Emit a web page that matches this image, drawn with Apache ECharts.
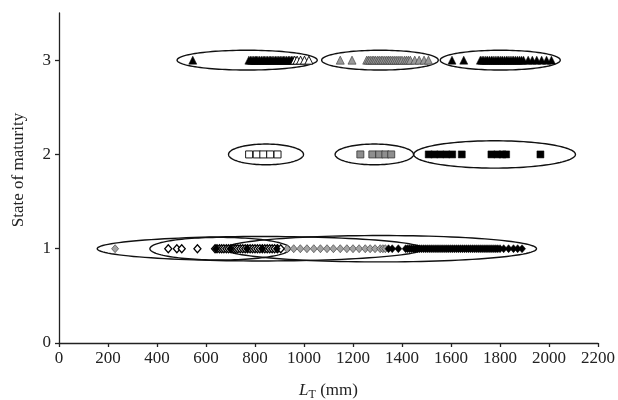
<!DOCTYPE html>
<html>
<head>
<meta charset="utf-8">
<script src="https://cdn.jsdelivr.net/npm/echarts@6/dist/echarts.min.js"></script>
<style>html,body{margin:0;padding:0;background:#fff}#c{width:618px;height:400px}</style>
</head>
<body>
<div id="c"></div>
<script>
// ---- Data (L_T in mm) ----
// State 3: triangles
const tri3BlackLeft = [546, 775, 782, 788, 795, 801, 806, 812, 819, 826, 833, 838, 845, 851, 858, 864, 870, 877, 884, 890, 897, 903, 910, 916, 922, 929, 936, 942, 949, 955];
const tri3WhiteLeft = [962, 972, 986, 1002, 1020];
const tri3Grey = [1148, 1196, 1256, 1263, 1270, 1278, 1285, 1292, 1300, 1307, 1315, 1322, 1330, 1338, 1345, 1352, 1360, 1368, 1376, 1384, 1392, 1400, 1410, 1418, 1426, 1434, 1452, 1470, 1490, 1508];
const tri3Black = [1604, 1652, 1720, 1727, 1734, 1742, 1749, 1757, 1765, 1772, 1780, 1788, 1795, 1803, 1810, 1818, 1826, 1833, 1841, 1849, 1856, 1864, 1872, 1880, 1888, 1896, 1915, 1932, 1950, 1970, 1990, 2010];
// State 2: squares
const sq2White = [776, 807, 834, 862, 892];
const sq2Grey = [1230, 1279, 1307, 1332, 1356];
const sq2Black = [1509, 1532, 1556, 1581, 1605, 1644, 1765, 1789, 1810, 1825, 1965];
// State 1: diamonds
const dia1Grey = [229, 931, 958, 985, 1012, 1040, 1067, 1094, 1120, 1148, 1175, 1200, 1225, 1250, 1270, 1290, 1311, 1322, 1332];
const dia1White = [446, 481, 501, 565, 637, 645, 655, 664, 673, 683, 692, 702, 712, 721, 730, 740, 750, 760, 770, 780, 790, 800, 810, 820, 830, 840, 850, 860, 870, 880, 892, 905];
const dia1Black = [641, 700, 768, 830, 889, 1345, 1360, 1385, 1415, 1423, 1431, 1439, 1447, 1455, 1463, 1471, 1479, 1487, 1495, 1503, 1511, 1519, 1527, 1535, 1543, 1551, 1559, 1567, 1575, 1583, 1591, 1599, 1607, 1615, 1623, 1631, 1639, 1647, 1655, 1663, 1671, 1679, 1687, 1695, 1703, 1711, 1719, 1727, 1735, 1743, 1751, 1759, 1767, 1775, 1783, 1791, 1800, 1815, 1835, 1855, 1872, 1890];
// Ellipses: [centre L_T, state, half-width (mm), half-height (state units)]
const ellipses = [
  [768, 3, 286, 0.105], [1310, 3, 238, 0.105], [1801, 3, 245, 0.105],
  [845, 2, 153, 0.11], [1287, 2, 160, 0.11], [1778, 2, 330, 0.145],
  [821, 1, 665, 0.13], [657, 1, 286, 0.12], [1313, 1, 636, 0.14]
];
const yTicks = [0, 1, 2, 3];

const FONT = 'Liberation Serif';
function pts(arr, y) { return arr.map(v => [v, y]); }
function sc(name, arr, y, symbol, size, fill, border, bw) {
  return {
    type: 'scatter', name: name, data: pts(arr, y), symbol: symbol, symbolSize: size, z: 3,
    itemStyle: { color: fill, borderColor: border, borderWidth: bw, opacity: 1 },
    emphasis: { disabled: true }, silent: true, animation: false
  };
}
const chart = echarts.init(document.getElementById('c'), null, { renderer: 'canvas' });
chart.setOption({
  animation: false,
  backgroundColor: '#fff',
  grid: { left: 59, right: 20, top: 13, bottom: 57, containLabel: false, outerBoundsMode: 'none' },
  xAxis: {
    type: 'value', min: 0, max: 2200, interval: 200,
    axisLine: { show: true, lineStyle: { color: '#222', width: 1.3 } },
    axisTick: { show: true, inside: false, length: 4, lineStyle: { color: '#222', width: 1.3 } },
    axisLabel: { margin: 7, color: '#222', fontFamily: FONT, fontSize: 17, formatter: v => String(v) },
    splitLine: { show: false },
    name: '{i|L}{s|T}{n| (mm)}', nameLocation: 'middle', nameGap: 37,
    nameTextStyle: {
      color: '#222', fontFamily: FONT, fontSize: 17,
      rich: {
        i: { fontFamily: FONT, fontStyle: 'italic', fontSize: 17, color: '#222' },
        s: { fontFamily: FONT, fontSize: 12, color: '#222', padding: [9, 0, 0, 0] },
        n: { fontFamily: FONT, fontSize: 17, color: '#222' }
      }
    }
  },
  yAxis: {
    type: 'value', min: 0, max: 3.5, interval: 1,
    axisLine: { show: true, lineStyle: { color: '#222', width: 1.3 } },
    axisTick: { show: true, inside: false, length: 4, customValues: yTicks, lineStyle: { color: '#222', width: 1.3 } },
    axisLabel: { margin: 8, color: '#222', fontFamily: FONT, fontSize: 17, customValues: yTicks,
      formatter: v => (yTicks.indexOf(v) >= 0 ? String(v) : '') },
    splitLine: { show: false },
    name: 'State of maturity', nameLocation: 'middle', nameGap: 32,
    nameTextStyle: { color: '#222', fontFamily: FONT, fontSize: 17, padding: [0, 0, 0, 16] }
  },
  series: [
    {
      type: 'custom', name: 'ellipses', data: ellipses, z: 2, clip: false, silent: true,
      encode: { x: 0, y: 1 },
      renderItem: function (params, api) {
        const c = api.coord([api.value(0), api.value(1)]);
        const s = api.size([api.value(2), api.value(3)]);
        const p = [];
        for (let k = 0; k < 120; k++) {
          const t = k / 120 * Math.PI * 2;
          p.push([c[0] + s[0] * Math.cos(t), c[1] + s[1] * Math.sin(t)]);
        }
        return { type: 'polygon', shape: { points: p }, style: { fill: 'none', stroke: '#111', lineWidth: 1.4 } };
      }
    },
    sc('t3bl', tri3BlackLeft, 3, 'triangle', 8, '#000', '#000', 0.5),
    sc('t3wl', tri3WhiteLeft, 3, 'triangle', 8, '#fff', '#000', 0.9),
    sc('t3g', tri3Grey, 3, 'triangle', 8, '#9a9a9a', '#444', 0.7),
    sc('t3b', tri3Black, 3, 'triangle', 8, '#000', '#000', 0.5),
    sc('s2w', sq2White, 2, 'rect', 7, '#fff', '#000', 0.9),
    sc('s2g', sq2Grey, 2, 'rect', 7, '#8e8e8e', '#333', 0.8),
    sc('s2b', sq2Black, 2, 'rect', 7, '#000', '#000', 0.5),
    sc('d1g', dia1Grey, 1, 'diamond', [7, 8], '#a3a3a3', '#444', 0.7),
    sc('d1w', dia1White, 1, 'diamond', [7, 8], '#fff', '#000', 1.3),
    sc('d1b', dia1Black, 1, 'diamond', [7, 8], '#000', '#000', 0.5)
  ]
});
</script>
</body>
</html>
